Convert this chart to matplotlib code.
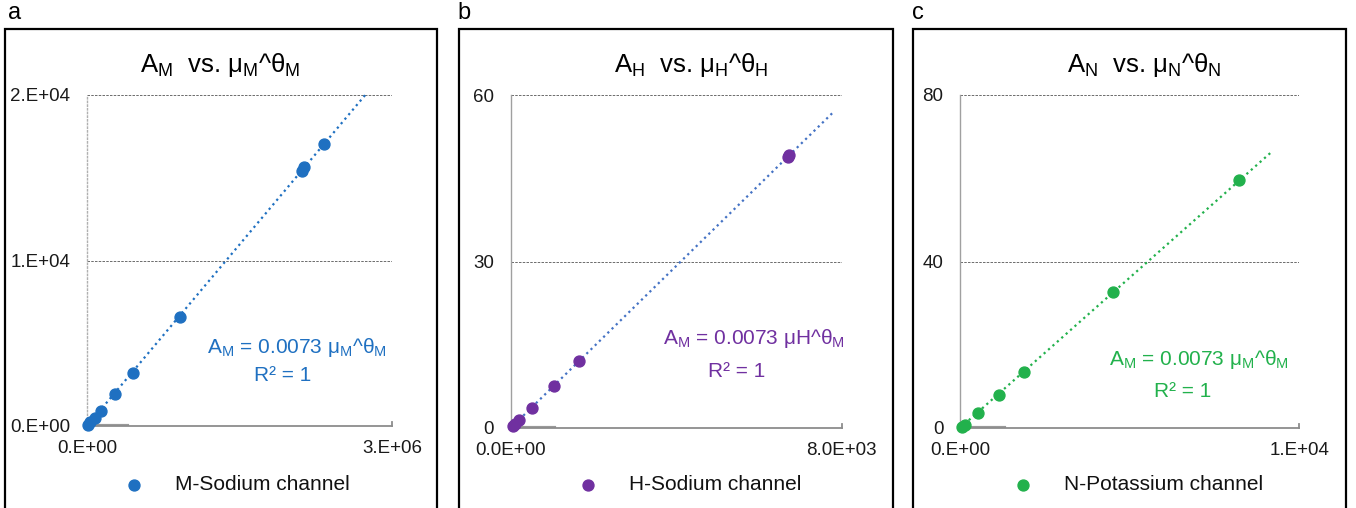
import numpy as np
import matplotlib.pyplot as plt
from matplotlib.patches import Rectangle

plt.rcParams['font.family'] = ['Liberation Sans', 'DejaVu Sans']
plt.rcParams['mathtext.fontset'] = 'custom'
plt.rcParams['mathtext.rm'] = 'Liberation Sans'
plt.rcParams['mathtext.it'] = 'Liberation Sans'

# panel a - M sodium channel
m_x = [0.01e6, 0.03e6, 0.08e6, 0.135e6, 0.275e6, 0.45e6, 0.915e6, 2.11e6, 2.13e6, 2.33e6]
m_y = [70, 240, 480, 925, 1930, 3200, 6590, 15400, 15650, 17040]
m_xticks = [0, 3e6]
m_xlabels = ['0.E+00', '3.E+06']
m_yticks = [0, 1e4, 2e4]
m_ylabels = ['0.E+00', '1.E+04', '2.E+04']
m_xend = 2.74e6

# panel b - H sodium channel
h_x = [60, 104, 208, 507, 1054, 1658, 6700, 6734]
h_y = [0.45, 0.75, 1.4, 3.6, 7.6, 12.0, 48.9, 49.2]
h_xticks = [0, 8000]
h_xlabels = ['0.0E+00', '8.0E+03']
h_yticks = [0, 30, 60]
h_ylabels = ['0', '30', '60']
h_xend = 7770

# panel c - N potassium channel
n_x = [50, 147, 521, 1150, 1896, 4518, 8232]
n_y = [0.3, 0.8, 3.5, 7.9, 13.5, 32.6, 59.6]
n_xticks = [0, 1e4]
n_xlabels = ['0.E+00', '1.E+04']
n_yticks = [0, 40, 80]
n_ylabels = ['0', '40', '80']
n_xend = 9186

W, H = 1356, 508
fig = plt.figure(figsize=(W / 100, H / 100), dpi=100)


def fx(px):
    return px / W


def fy(py):
    return 1 - py / H


panels = [
    dict(x=m_x, y=m_y, xt=m_xticks, xl=m_xlabels, yt=m_yticks, yl=m_ylabels, xend=m_xend,
         box=(87, 392, 95, 426), frame=(5, 437), letter='a', lx=8,
         title=r'$\mathregular{A_M}$  vs. $\mathregular{μ_M}$^$\mathregular{θ_M}$', tx=220,
         eq=r'$\mathregular{A_M}$ = 0.0073 $\mathregular{μ_M}$^$\mathregular{θ_M}$',
         eqpos=(297, 353), rpos=(283, 381),
         color='#1f70c1', tcolor='#1f70c1', legend='M-Sodium channel', legx=124,
         left_style=':', left_color='#b0b0b0'),
    dict(x=h_x, y=h_y, xt=h_xticks, xl=h_xlabels, yt=h_yticks, yl=h_ylabels, xend=h_xend,
         box=(510.7, 841.7, 95, 428), frame=(459, 893), letter='b', lx=457,
         title=r'$\mathregular{A_H}$  vs. $\mathregular{μ_H}$^$\mathregular{θ_H}$', tx=691,
         eq=r'$\mathregular{A_M}$ = 0.0073 μH^$\mathregular{θ_M}$',
         eqpos=(754, 344), rpos=(737, 377),
         color='#7030a0', tcolor='#4472c4', legend='H-Sodium channel', legx=578,
         left_style='-', left_color='#a0a0a0'),
    dict(x=n_x, y=n_y, xt=n_xticks, xl=n_xlabels, yt=n_yticks, yl=n_ylabels, xend=n_xend,
         box=(960, 1299.3, 95, 428), frame=(913, 1346), letter='c', lx=912,
         title=r'$\mathregular{A_N}$  vs. $\mathregular{μ_N}$^$\mathregular{θ_N}$', tx=1144,
         eq=r'$\mathregular{A_M}$ = 0.0073 $\mathregular{μ_M}$^$\mathregular{θ_M}$',
         eqpos=(1199, 365), rpos=(1183, 397),
         color='#22b14c', tcolor='#22b14c', legend='N-Potassium channel', legx=1013,
         left_style='-', left_color='#a0a0a0'),
]

for p in panels:
    l, r, t, b = p['box']
    ax = fig.add_axes([fx(l), fy(b), fx(r - l), (b - t) / H])
    x = np.array(p['x'])
    y = np.array(p['y'])

    # linear trend through origin
    k = np.sum(x * y) / np.sum(x * x)
    xs = np.array([0, p['xend']])
    ax.plot(xs, k * xs, linestyle=':', color=p['tcolor'], lw=1.6, clip_on=False, zorder=2)
    sc = ax.scatter(x, y, s=62, color=p['color'], zorder=3, clip_on=False, label=p['legend'])

    ax.set_xlim(p['xt'][0], p['xt'][-1])
    ax.set_ylim(p['yt'][0], p['yt'][-1])
    ax.set_xticks(p['xt'])
    ax.set_xticklabels(p['xl'])
    ax.set_yticks(p['yt'])
    ax.set_yticklabels(p['yl'])
    ax.tick_params(length=0, labelsize=13.5, colors='#1a1a1a')
    ax.tick_params(axis='y', pad=12)
    ax.tick_params(axis='x', pad=10)

    ax.grid(axis='y', linestyle=(0, (3, 1.5)), color='#555555', lw=0.6)
    ax.set_axisbelow(True)
    for s in ['top', 'right']:
        ax.spines[s].set_visible(False)
    ax.spines['bottom'].set_color('#8c8c8c')
    ax.spines['bottom'].set_linewidth(1.3)
    ax.spines['left'].set_color(p['left_color'])
    ax.spines['left'].set_linestyle(p['left_style'])
    ax.spines['left'].set_linewidth(1.0)
    ax.axhline(0, xmin=0, xmax=0.13, color='#999999', lw=3, zorder=1.5)
    ax.axvline(p['xt'][-1], ymin=0, ymax=0.012, color='#8c8c8c', lw=1.3, clip_on=False)

    leg = ax.legend(handles=[sc], loc='center left', frameon=False, fontsize=15,
                    bbox_to_anchor=(fx(p['legx']), fy(485)), bbox_transform=fig.transFigure,
                    borderpad=0, borderaxespad=0, handlelength=1.0, handletextpad=1.45,
                    scatterpoints=1)
    for txt in leg.get_texts():
        txt.set_color('#111111')

    fig.text(fx(p['tx']), fy(72), p['title'], ha='center', va='baseline', fontsize=18.5)
    fig.text(fx(p['eqpos'][0]), fy(p['eqpos'][1]), p['eq'], ha='center', va='baseline',
             fontsize=15, color=p['color'])
    fig.text(fx(p['rpos'][0]), fy(p['rpos'][1]), 'R² = 1', ha='center', va='baseline',
             fontsize=15, color=p['color'])
    fig.text(fx(p['lx']), fy(13), p['letter'], ha='left', va='center', fontsize=17)

    f0, f1 = p['frame']
    fig.patches.append(Rectangle((fx(f0), -0.05), fx(f1 - f0), fy(29) + 0.05,
                                 transform=fig.transFigure, fill=False, ec='black',
                                 lw=1.6, zorder=0))

fig.savefig('out.png', dpi=100)
